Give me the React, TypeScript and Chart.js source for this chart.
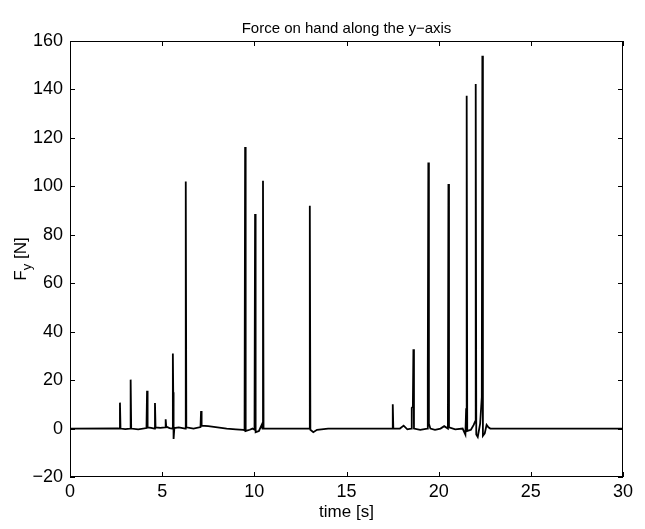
import React, { useEffect, useRef } from "react";
import { Chart, registerables } from "chart.js";

Chart.register(...registerables);

const titleText = "Force on hand along the y\u2212axis";
const xLabel = "time [s]";
const yLabelMain = "F";
const yLabelSub = "y";
const yLabelUnit = " [N]";

const xTicks = [0, 5, 10, 15, 20, 25, 30];
const yTicks = [-20, 0, 20, 40, 60, 80, 100, 120, 140, 160];

const timeS = [
  0, 2.6, 2.68, 2.71, 2.74, 3.0, 3.26, 3.29, 3.32, 3.7, 4.15, 4.18, 4.21, 4.4,
  4.58, 4.61, 4.64, 4.9, 5.16, 5.19, 5.22, 5.4, 5.55, 5.58, 5.6, 5.62, 5.66,
  5.9, 6.25, 6.28, 6.31, 6.7, 7.08, 7.11, 7.14, 7.5, 8.0, 8.5, 9.0, 9.4, 9.47,
  9.5, 9.53, 9.75, 9.9, 10.01, 10.04, 10.07, 10.25, 10.4, 10.44, 10.47, 10.5,
  11, 12, 12.9, 12.98, 13.01, 13.04, 13.2, 13.4, 14, 15, 16, 17.4, 17.48,
  17.51, 17.54, 17.9, 18.1, 18.3, 18.5, 18.54, 18.6, 18.63, 18.66, 19.0,
  19.38, 19.41, 19.44, 19.47, 19.55, 19.8, 20.1, 20.3, 20.5, 20.53, 20.56,
  20.9, 21.3, 21.45, 21.49, 21.52, 21.55, 21.75, 21.9, 21.98, 22.01, 22.04,
  22.12, 22.25, 22.34, 22.37, 22.4, 22.5, 22.6, 22.7, 22.8, 30,
];

const forceN = [
  0, 0.1, 0, 10.7, 0, -0.2, 0, 20.2, 0, -0.3, 0.2, 15.6, 0.5, 0.3,
  0, 10.5, 0.5, 0.3, 0.5, 3.8, 0.8, 0.2, 0, 31, 15, -4.3, 0.2,
  0.5, 0, 102, 0.5, 0, 0.6, 7.2, 1.2, 1.0, 0.5, 0, -0.3, -0.5, -0.8,
  116.2, -1, -0.5, 0, -0.5, 88.6, -1.5, -1, 1.5, 0, 102.3, 0,
  0, 0, 0, 0, 92, -0.5, -1.5, -0.5, 0, 0, 0, 0, 0,
  10, 0, 0, 1.2, -0.3, 0, 8.5, 9, 32.7, 0, -0.5,
  0, 23, 109.8, 2, 0, -0.5, 0, 1, 0, 101, 0.5,
  -0.3, 0, -2.5, 8, 137.4, -1, -0.5, 1.5, 3, 142.2, -2.5,
  -3.5, 2, 13, 153.9, -3, -2, 1.5, 0.5, 0, 0,
];

const FONT = "'Liberation Sans', Arial, Helvetica, sans-serif";
const TICK_SIZE = 18;
const LABEL_SIZE = 17;
const TITLE_SIZE = 15;

const framePlugin = {
  id: "matlabFrame",
  afterDraw(chart: any) {
    const { ctx, chartArea } = chart;
    const { left, right, top, bottom } = chartArea;
    const xs = chart.scales.x;
    const ys = chart.scales.y;
    ctx.save();
    ctx.strokeStyle = "#000";
    ctx.lineWidth = 1;
    ctx.strokeRect(left + 0.5, top + 0.5, right - left - 1, bottom - top - 1);
    const tl = 5;
    ctx.beginPath();
    for (const v of xTicks) {
      const px = Math.round(xs.getPixelForValue(v)) + 0.5;
      ctx.moveTo(px, bottom);
      ctx.lineTo(px, bottom - tl);
      ctx.moveTo(px, top);
      ctx.lineTo(px, top + tl);
    }
    for (const v of yTicks) {
      const py = Math.round(ys.getPixelForValue(v)) + 0.5;
      ctx.moveTo(left, py);
      ctx.lineTo(left + tl, py);
      ctx.moveTo(right, py);
      ctx.lineTo(right - tl, py);
    }
    ctx.stroke();

    ctx.fillStyle = "#000";
    ctx.font = `${TITLE_SIZE}px ${FONT}`;
    ctx.textAlign = "center";
    ctx.textBaseline = "middle";
    ctx.fillText(titleText, (left + right) / 2, top - 12);
    ctx.font = `${LABEL_SIZE}px ${FONT}`;
    ctx.fillText(xLabel, (left + right) / 2, bottom + 35);
    ctx.translate(21, (top + bottom) / 2);
    ctx.rotate(-Math.PI / 2);
    const subSize = Math.round(LABEL_SIZE * 0.75);
    ctx.font = `${LABEL_SIZE}px ${FONT}`;
    const wF = ctx.measureText(yLabelMain).width;
    const wU = ctx.measureText(yLabelUnit).width;
    ctx.font = `${subSize}px ${FONT}`;
    const wy = ctx.measureText(yLabelSub).width;
    const total = wF + wy + wU;
    let x0 = -total / 2;
    ctx.textAlign = "left";
    ctx.font = `${LABEL_SIZE}px ${FONT}`;
    ctx.fillText(yLabelMain, x0, 0);
    x0 += wF;
    ctx.font = `${subSize}px ${FONT}`;
    ctx.fillText(yLabelSub, x0, 6);
    x0 += wy;
    ctx.font = `${LABEL_SIZE}px ${FONT}`;
    ctx.fillText(yLabelUnit, x0, 0);
    ctx.restore();
  },
};

export default function App() {
  const ref = useRef<HTMLCanvasElement | null>(null);
  useEffect(() => {
    if (!ref.current) return;
    const data = timeS.map((t, i) => ({ x: t, y: forceN[i] }));
    const chart = new Chart(ref.current, {
      type: "line",
      data: {
        datasets: [
          {
            data,
            borderColor: "#000",
            borderWidth: 1.8,
            pointRadius: 0,
            tension: 0,
            fill: false,
          },
        ],
      },
      options: {
        animation: false,
        responsive: false,
        maintainAspectRatio: false,
        layout: { padding: { left: 0, right: 22, top: 41, bottom: 0 } },
        plugins: {
          legend: { display: false },
          title: { display: false },
          tooltip: { enabled: false },
        },
        scales: {
          x: {
            type: "linear",
            min: 0,
            max: 30,
            afterBuildTicks: (s: any) => {
              s.ticks = xTicks.map((v) => ({ value: v }));
            },
            afterFit: (s: any) => {
              s.height = 52;
            },
            grid: { display: false, drawTicks: false, tickLength: 0 },
            border: { display: false },
            ticks: {
              color: "#000",
              font: { family: FONT, size: TICK_SIZE },
              padding: 4,
              maxRotation: 0,
            },
          },
          y: {
            type: "linear",
            min: -20,
            max: 160,
            afterBuildTicks: (s: any) => {
              s.ticks = yTicks.map((v) => ({ value: v }));
            },
            afterFit: (s: any) => {
              s.width = 70;
            },
            grid: { display: false, drawTicks: false, tickLength: 0 },
            border: { display: false },
            ticks: {
              color: "#000",
              font: { family: FONT, size: TICK_SIZE },
              padding: 7,
              callback: (v: any) =>
                Number(v) < 0 ? "\u2212" + Math.abs(Number(v)) : String(v),
            },
          },
        },
      },
      plugins: [framePlugin],
    });
    return () => chart.destroy();
  }, []);
  return (
    <div style={{ position: "fixed", left: 0, top: 0, width: 645, height: 529, background: "#fff" }}>
      <canvas ref={ref} width={645} height={529} style={{ width: 645, height: 529 }} />
    </div>
  );
}
